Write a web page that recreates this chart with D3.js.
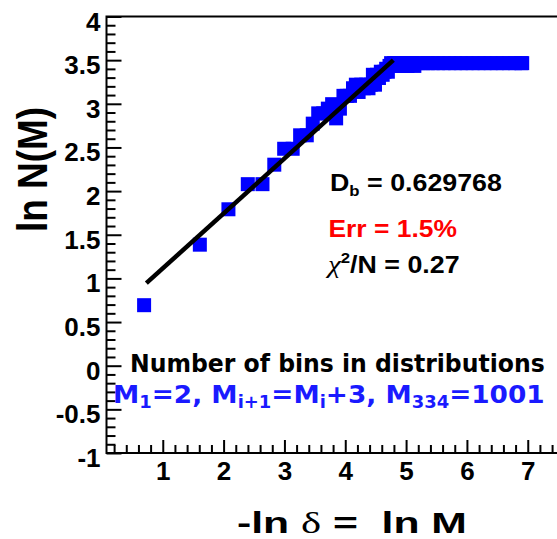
<!DOCTYPE html>
<html>
<head>
<meta charset="utf-8">
<script src="https://cdn.jsdelivr.net/npm/d3@7"></script>
<style>
  html, body { margin: 0; padding: 0; background: #fff; }
  svg { display: block; }
</style>
</head>
<body>
<svg id="chart" width="557" height="539"></svg>
<script>
// ---- data ----
const binsM = [2,5,8,11,14,17,20,23,26,29,32,35,38,41,44,47,50,53,56,59,62,65,68,71,74,77,80,83,86,89,92,95,98,101,104,107,110,113,116,119,122,125,128,131,134,140,146,152,158,164,170,182,197,212,230,251,275,302,332,365,401,443,488,539,596,659,728,806,890,983,1001];
const occupiedN = [2,4,6,8,8,10,12,12,14,14,16,18,18,19,20,17,19,22,22,22,24,25,23,25,24,25,24,25,28,25,28,27,29,28,29,30,29,31,32,31,32,31,32,31,32,31,32,31,32,32,31,32,32,32,32,32,32,32,32,32,32,32,32,32,32,32,32,32,32,32,32];
const fitX = [0.73, 4.79];
const fitY = [0.945, 3.50];
const xTickValues = [1,2,3,4,5,6,7];
const xTickLabels = ["1","2","3","4","5","6","7"];
const yTickValues = [-1,-0.5,0,0.5,1,1.5,2,2.5,3,3.5,4];
const yTickLabels = ["-1","-0.5","0","0.5","1","1.5","2","2.5","3","3.5","4"];
const xMinorValues = d3.range(0.2, 7.5, 0.2).map(v => +v.toFixed(1)).filter(v => Math.abs(v - Math.round(v)) > 1e-6);
const yMinorValues = d3.range(-0.9, 4.0, 0.1).map(v => +v.toFixed(1)).filter(v => Math.abs(v*2 - Math.round(v*2)) > 1e-6);

(function () {
const svg = d3.select("#chart");
const W = 557, H = 539;
const pLeft = 106.5, pTop = 16.5, pBottom = 453;
const x = d3.scaleLinear().domain([0.075, 7.5]).range([pLeft, pLeft + 7.425 * 60.83]);
const y = d3.scaleLinear().domain([-1, 4]).range([pBottom, pTop]);

svg.append("rect").attr("width", W).attr("height", H).attr("fill", "#fff");

const boldFont = "'Liberation Sans', Arial, Helvetica, sans-serif";

function fitWidth(sel, x0, target) {
  const bb = sel.node().getBBox();
  const s = target / bb.width;
  sel.attr("transform", `translate(${x0},0) scale(${s},1) translate(${-x0},0)`);
}

// ---- data squares ----
const pts = d3.zip(binsM, occupiedN);
const sq = 14;
svg.append("g").selectAll("rect").data(pts).join("rect")
  .attr("x", d => x(Math.log(d[0])) - sq/2)
  .attr("y", d => y(Math.log(d[1])) - sq/2)
  .attr("width", sq).attr("height", sq)
  .attr("fill", "#0000ff");

// ---- fit line ----
svg.append("line")
  .attr("x1", x(fitX[0])).attr("y1", y(fitY[0]))
  .attr("x2", x(fitX[1])).attr("y2", y(fitY[1]))
  .attr("stroke", "#000").attr("stroke-width", 4.5);

// ---- axes ----
const yMajor = d3.axisLeft(y).tickValues(yTickValues).tickFormat((d, i) => yTickLabels[i])
  .tickSizeInner(-15).tickSizeOuter(0).tickPadding(6);
const yMinor = d3.axisLeft(y).tickValues(yMinorValues).tickFormat("").tickSizeInner(-9).tickSizeOuter(0);
const xMajor = d3.axisBottom(x).tickValues(xTickValues).tickFormat((d, i) => xTickLabels[i])
  .tickSizeInner(-13).tickSizeOuter(0).tickPadding(8);
const xMinor = d3.axisBottom(x).tickValues(xMinorValues).tickFormat("").tickSizeInner(-8).tickSizeOuter(0);

function styleAxis(g) {
  g.select(".domain").remove();
  g.selectAll(".tick line").attr("stroke", "#000").attr("stroke-width", 2);
  g.selectAll(".tick text").attr("fill", "#000").attr("font-family", boldFont)
    .attr("font-weight", "bold").attr("font-size", 26);
}
const gyM = svg.append("g").attr("transform", `translate(${pLeft},0)`).call(yMajor).call(styleAxis);
gyM.selectAll(".tick text").attr("dy", 13.5).attr("x", -6);
svg.append("g").attr("transform", `translate(${pLeft},0)`).call(yMinor).call(styleAxis);
const gxM = svg.append("g").attr("transform", `translate(0,${pBottom})`).call(xMajor).call(styleAxis);
gxM.selectAll(".tick text").attr("dy", 0).attr("y", 27);
svg.append("g").attr("transform", `translate(0,${pBottom})`).call(xMinor).call(styleAxis);

// ---- frame ----
svg.append("rect").attr("x", pLeft).attr("y", pTop)
  .attr("width", x.range()[1] - pLeft).attr("height", pBottom - pTop)
  .attr("fill", "none").attr("stroke", "#000").attr("stroke-width", 2);

// ---- axis titles ----
const xt = svg.append("text").attr("x", 237).attr("y", 533)
  .attr("font-family", boldFont).attr("font-weight", "bold").attr("font-size", 30).attr("fill", "#000");
xt.append("tspan").text("-ln ");
xt.append("tspan").attr("font-family", "'Liberation Serif', 'DejaVu Serif', serif").attr("font-weight", "normal").text("δ");
xt.append("tspan").text(" =\u00a0\u00a0ln M");
fitWidth(xt, 237, 230);

svg.append("text")
  .attr("transform", "translate(47,169.5) rotate(-90)")
  .attr("text-anchor", "middle")
  .attr("font-family", boldFont).attr("font-weight", "bold").attr("font-size", 42).attr("fill", "#000")
  .attr("textLength", 125).attr("lengthAdjust", "spacingAndGlyphs")
  .text("ln N(M)");

// ---- annotations ----
const t1 = svg.append("text").attr("x", 330).attr("y", 191.5)
  .attr("font-family", boldFont).attr("font-weight", "bold").attr("font-size", 24).attr("fill", "#000");
t1.append("tspan").text("D");
t1.append("tspan").attr("font-size", 15).attr("dy", 5).text("b");
t1.append("tspan").attr("dy", -5).text(" = 0.629768");
fitWidth(t1, 330, 172);

const t2 = svg.append("text").attr("x", 328.5).attr("y", 237)
  .attr("font-family", boldFont).attr("font-weight", "bold").attr("font-size", 24).attr("fill", "#ff0000")
  .text("Err = 1.5%");
fitWidth(t2, 328.5, 128.5);

const t3 = svg.append("text").attr("x", 328).attr("y", 273)
  .attr("font-family", boldFont).attr("font-weight", "bold").attr("font-size", 24).attr("fill", "#000");
t3.append("tspan").attr("font-family", "'Liberation Serif', 'DejaVu Serif', serif").attr("font-weight", "normal")
  .attr("font-style", "italic").attr("font-size", 26).text("χ");
t3.append("tspan").attr("font-size", 15).attr("dy", -10).text("2");
t3.append("tspan").attr("dy", 10).text("/N = 0.27");
fitWidth(t3, 328, 135);

const verd = "'DejaVu Sans', Verdana, sans-serif";
const t4 = svg.append("text").attr("x", 130).attr("y", 372)
  .attr("font-family", verd).attr("font-weight", "bold").attr("font-size", 25).attr("fill", "#000")
  .text("Number of bins in distributions");
fitWidth(t4, 130, 415);

const t5 = svg.append("text").attr("x", 113).attr("y", 403)
  .attr("font-family", verd).attr("font-weight", "bold").attr("font-size", 25).attr("fill", "#1a1aff");
function sub(txt) { t5.append("tspan").attr("font-size", 17).attr("dy", 5).text(txt); }
function norm(txt) { t5.append("tspan").attr("dy", -5).text(txt); }
t5.append("tspan").text("M");
sub("1"); norm("=2, M"); sub("i+1"); norm("=M"); sub("i"); norm("+3, M"); sub("334"); norm("=1001");
fitWidth(t5, 113, 432);
})();
</script>
</body>
</html>
